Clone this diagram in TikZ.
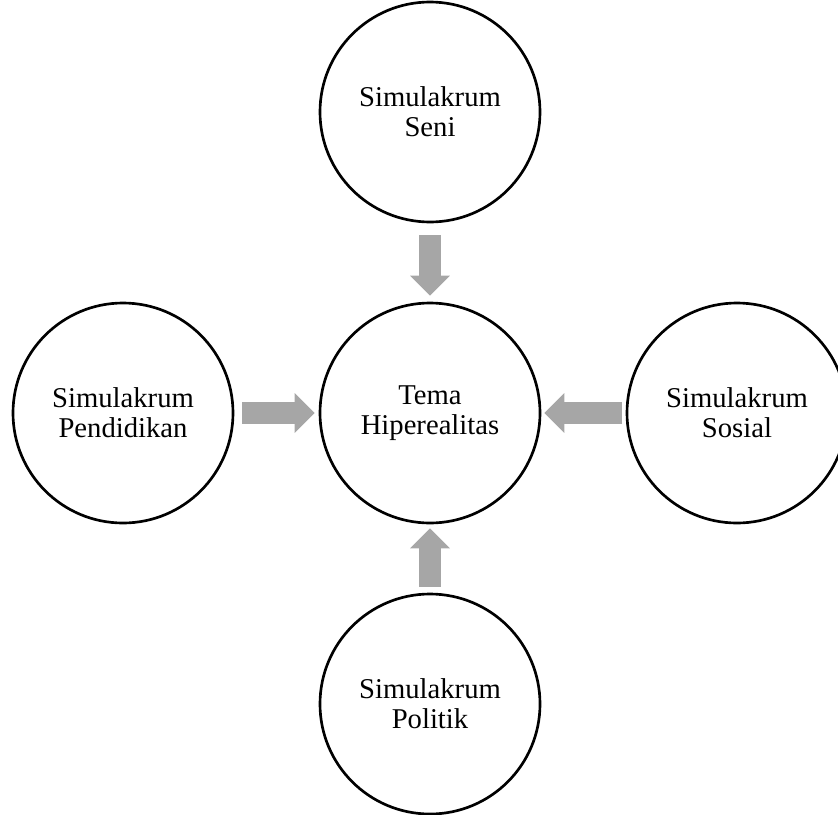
\documentclass[tikz,border=0pt]{standalone}
\usepackage{fontspec}
\setmainfont{Liberation Serif}
\usepackage{tikz}
\usepackage{xcolor}
\usetikzlibrary{positioning,arrows.meta}

\definecolor{arrowgray}{HTML}{A6A6A6}

\begin{document}
\begin{tikzpicture}[x=0.75pt,y=-0.75pt,
  topic/.style={draw=black,line width=2pt,circle,minimum size=165pt,inner sep=0pt,
    align=center,font=\fontsize{21.5pt}{22.5pt}\selectfont},
  blockarrow/.style={draw=arrowgray,line width=17pt,
    -{Triangle[length=15pt,width=29pt,fill=arrowgray,color=arrowgray]}}]
\useasboundingbox (0,0) rectangle (838,814);
\node[topic] (tema) at (430,413) {Tema\\Hiperealitas};
\node[topic] (seni) at (430,112) {Simulakrum\\Seni};
\node[topic] (pendidikan) at (123,413) {Simulakrum\\Pendidikan};
\node[topic] (sosial) at (737,413) {Simulakrum\\Sosial};
\node[topic] (politik) at (430,704) {Simulakrum\\Politik};
\draw[blockarrow,shorten <=9pt,shorten >=4.5pt] (seni) -- (tema);
\draw[blockarrow,shorten <=6pt,shorten >=3pt] (pendidikan) -- (tema);
\draw[blockarrow,shorten <=3pt,shorten >=2.25pt] (sosial) -- (tema);
\draw[blockarrow,shorten <=4.5pt,shorten >=3pt] (politik) -- (tema);
\end{tikzpicture}
\end{document}
